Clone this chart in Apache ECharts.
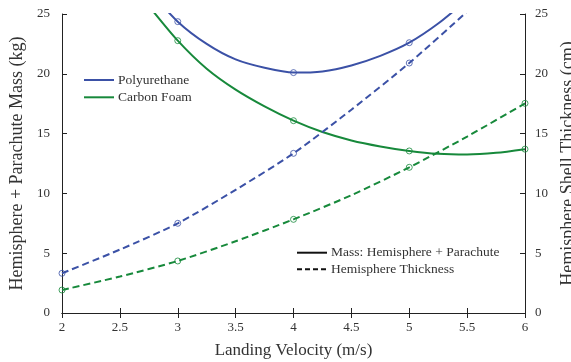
<!DOCTYPE html>
<html>
<head>
<meta charset="utf-8">
<script src="https://cdn.jsdelivr.net/npm/echarts@6/dist/echarts.min.js"></script>
<style>html,body{margin:0;padding:0;background:#fff}#c{width:571px;height:362px}</style>
</head>
<body>
<div id="c"></div>
<script>
// Landing velocity (m/s)
const xSolid = [2.75, 3, 3.25, 3.5, 3.75, 4, 4.25, 4.5, 4.75, 5, 5.25, 5.5, 5.75, 6];
const polyMass = [27.0, 24.36, 22.5, 21.2, 20.5, 20.1, 20.2, 20.7, 21.5, 22.6, 24.2, 26.2, null, null];
const carbonMass = [25.67, 22.77, 20.42, 18.67, 17.27, 16.08, 15.13, 14.43, 13.93, 13.55, 13.31, 13.25, 13.39, 13.7];
const xDash = [2, 2.5, 3, 3.5, 4, 4.5, 5, 5.5, 6];
const polyThick = [3.32, 5.3, 7.5, 10.3, 13.35, 17.0, 20.9, 25.2, 29.7];
const carbonThick = [1.92, 3.05, 4.35, 6.0, 7.83, 9.85, 12.18, 14.75, 17.53];
const markerX = [2, 3, 4, 5, 6];
const xTicks = ['2', '2.5', '3', '3.5', '4', '4.5', '5', '5.5', '6'];
const yTicks = ['0', '5', '10', '15', '20', '25'];

const BLUE = '#3b51a6';
const GREEN = '#17893b';
const FONT = 'Liberation Serif';

function pairs(xs, ys) { return xs.map((x, i) => [x, ys[i]]).filter(p => p[1] != null); }
function marks(xs, ys) { return pairs(xs, ys).filter(p => markerX.includes(p[0]) && p[1] <= 25); }

const chart = echarts.init(document.getElementById('c'), null, {renderer: 'canvas'});
const axisLbl = {fontFamily: FONT, fontSize: 13, color: '#333'};
const lineCommon = {type: 'line', symbol: 'none', smooth: 0.25, clip: true};
const markCommon = {type: 'scatter', symbol: 'circle', symbolSize: 6, clip: true, silent: true, z: 3};
const legendCommon = {orient: 'vertical', padding: 0, itemWidth: 30, itemHeight: 14,
  itemStyle: {opacity: 0},
  textStyle: {fontFamily: FONT, fontSize: 13.5, color: '#333', padding: [0,0,0,-1]}};

chart.setOption({
  animation: false,
  grid: {left: 62, right: 46, top: 14, bottom: 49, outerBoundsMode: 'none', containLabel: false},
  legend: [
    Object.assign({data: ['Polyurethane', 'Carbon Foam'], left: 83, top: 73, itemGap: 3.3}, legendCommon),
    Object.assign({data: ['Mass: Hemisphere + Parachute', 'Hemisphere Thickness'], left: 296, top: 245.7, itemGap: 2.6}, legendCommon)
  ],
  xAxis: [
    {type: 'value', min: 2, max: 6, interval: 0.5, position: 'bottom',
     name: 'Landing Velocity (m/s)', nameLocation: 'middle', nameGap: 29,
     nameTextStyle: {fontFamily: FONT, fontSize: 17, color: '#333'},
     axisLine: {lineStyle: {color: '#222', width: 1}},
     axisTick: {inside: true, length: 5, lineStyle: {color: '#222'}},
     axisLabel: Object.assign({margin: 8, formatter: v => xTicks[Math.round((v - 2) * 2)]}, axisLbl),
     splitLine: {show: false}},
    {type: 'value', min: 2, max: 6, interval: 0.5, position: 'top',
     axisLine: {lineStyle: {color: '#222', width: 1}},
     axisTick: {inside: true, length: 5, lineStyle: {color: '#222'}},
     axisLabel: {show: false}, splitLine: {show: false}}
  ],
  yAxis: [
    {type: 'value', min: 0, max: 25, interval: 5, position: 'left',
     name: 'Hemisphere + Parachute Mass (kg)', nameLocation: 'middle', nameGap: 36,
     nameTextStyle: {fontFamily: FONT, fontSize: 18, color: '#333'},
     axisLine: {show: true, lineStyle: {color: '#222', width: 1}},
     axisTick: {show: true, inside: true, length: 5, lineStyle: {color: '#222'}},
     axisLabel: Object.assign({margin: 12, formatter: v => yTicks[v / 5]}, axisLbl),
     splitLine: {show: false}},
    {type: 'value', min: 0, max: 25, interval: 5, position: 'right',
     name: 'Hemisphere Shell Thickness (cm)', nameLocation: 'middle', nameGap: 23,
     nameTextStyle: {fontFamily: FONT, fontSize: 18, color: '#333'},
     axisLine: {show: true, lineStyle: {color: '#222', width: 1}},
     axisTick: {show: true, inside: true, length: 5, lineStyle: {color: '#222'}},
     axisLabel: Object.assign({margin: 10, formatter: v => yTicks[v / 5]}, axisLbl),
     splitLine: {show: false}}
  ],
  series: [
    Object.assign({name: 'Polyurethane', data: pairs(xSolid, polyMass), color: BLUE,
      lineStyle: {color: BLUE, width: 2}}, lineCommon),
    Object.assign({name: 'Carbon Foam', data: pairs(xSolid, carbonMass), color: GREEN,
      lineStyle: {color: GREEN, width: 2}}, lineCommon),
    Object.assign({name: 'Poly thickness', data: pairs(xDash, polyThick), yAxisIndex: 1, color: BLUE,
      lineStyle: {color: BLUE, width: 2, type: [7, 4]}}, lineCommon),
    Object.assign({name: 'Carbon thickness', data: pairs(xDash, carbonThick), yAxisIndex: 1, color: GREEN,
      lineStyle: {color: GREEN, width: 2, type: [7, 4]}}, lineCommon),
    Object.assign({data: marks(xSolid, polyMass), itemStyle: {color: 'none', borderColor: BLUE, borderWidth: 1}}, markCommon),
    Object.assign({data: marks(xSolid, carbonMass), itemStyle: {color: 'none', borderColor: GREEN, borderWidth: 1}}, markCommon),
    Object.assign({data: marks(xDash, polyThick), yAxisIndex: 1, itemStyle: {color: 'none', borderColor: BLUE, borderWidth: 1}}, markCommon),
    Object.assign({data: marks(xDash, carbonThick), yAxisIndex: 1, itemStyle: {color: 'none', borderColor: GREEN, borderWidth: 1}}, markCommon),
    {name: 'Mass: Hemisphere + Parachute', type: 'line', data: [], symbol: 'none', color: '#111',
     lineStyle: {color: '#111', width: 1.5}},
    {name: 'Hemisphere Thickness', type: 'line', data: [], symbol: 'none', color: '#111',
     lineStyle: {color: '#111', width: 1.5, type: [5, 3]}}
  ]
});
</script>
</body>
</html>
